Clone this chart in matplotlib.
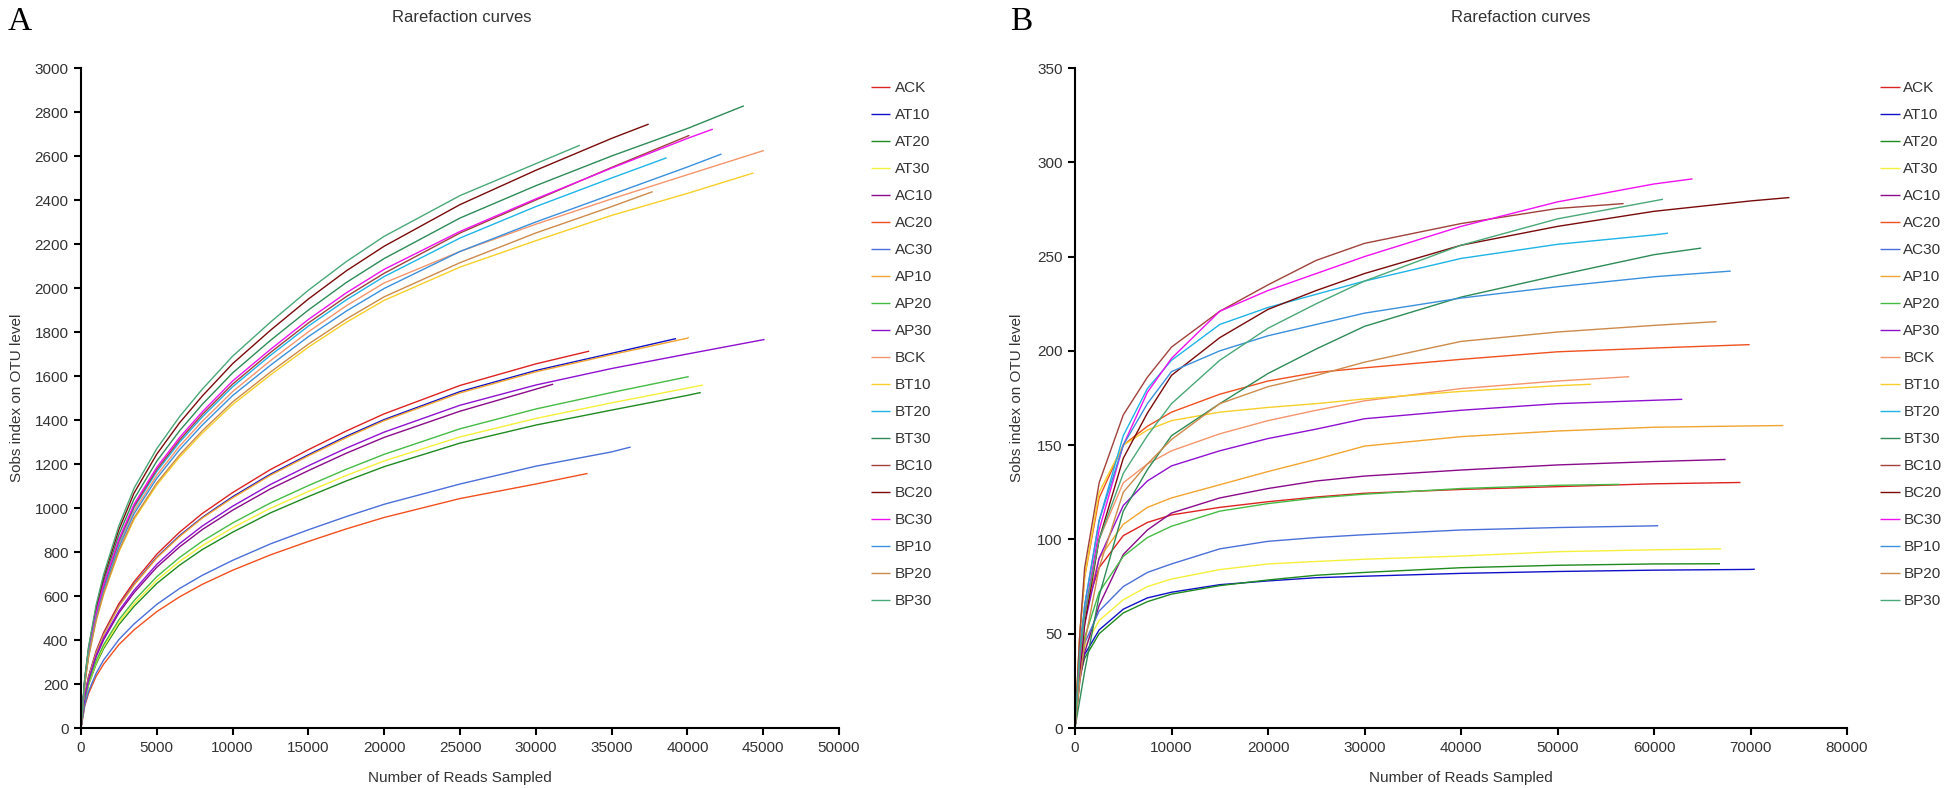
import matplotlib
matplotlib.use('Agg')
import matplotlib.pyplot as plt

plt.rcParams['font.family'] = ['Liberation Sans', 'DejaVu Sans']

# sample names and colours (same order in both panels)
names = ['ACK', 'AT10', 'AT20', 'AT30', 'AC10', 'AC20', 'AC30', 'AP10', 'AP20', 'AP30',
         'BCK', 'BT10', 'BT20', 'BT30', 'BC10', 'BC20', 'BC30', 'BP10', 'BP20', 'BP30']
colors = ['#dd2222', '#1010c8', '#1f8a1f', '#f5f03c', '#8a0a8a', '#f0501e', '#4a6fd8',
          '#f2a431', '#45bb45', '#9010d0', '#f4956c', '#f7cf2a', '#1eb4e6', '#2e8b57',
          '#a0413c', '#7a0a0a', '#f010f0', '#3a90dc', '#cd8a4a', '#4aa878']

# ---- panel A: reads sampled grid, per-sample values up to the sample end
a_grid = [0, 250, 500, 1000, 1500, 2500, 3500, 5000, 6500, 8000, 10000, 12500, 15000, 17500,
          20000, 25000, 30000, 35000, 40000, 45000]
a_sobs = [
    [0, 150, 235, 350, 435, 565, 665, 790, 890, 975, 1070, 1175, 1265, 1350, 1428, 1557, 1655],              # ACK
    [0, 147, 231, 344, 427, 555, 653, 776, 874, 957, 1051, 1154, 1242, 1326, 1402, 1529, 1625, 1703],        # AT10
    [0, 125, 196, 291, 362, 470, 553, 657, 740, 811, 890, 978, 1052, 1123, 1188, 1295, 1377, 1445, 1512],    # AT20
    [0, 128, 200, 298, 370, 480, 565, 672, 757, 829, 910, 999, 1075, 1148, 1214, 1323, 1407, 1478, 1545],    # AT30
    [0, 139, 217, 324, 402, 523, 615, 731, 823, 902, 990, 1087, 1170, 1249, 1321, 1440, 1540],               # AC10
    [0, 101, 157, 235, 291, 379, 446, 529, 596, 653, 717, 787, 848, 905, 957, 1043, 1109],                   # AC20
    [0, 107, 167, 249, 310, 402, 473, 562, 634, 694, 762, 837, 901, 961, 1017, 1109, 1190, 1255],            # AC30
    [0, 147, 230, 342, 425, 553, 650, 773, 870, 954, 1046, 1149, 1237, 1320, 1397, 1523, 1619, 1697, 1772],  # AP10
    [0, 131, 205, 305, 379, 492, 579, 688, 775, 849, 932, 1023, 1102, 1176, 1244, 1360, 1450, 1525, 1596],   # AP20
    [0, 141, 221, 330, 410, 532, 626, 744, 838, 918, 1008, 1107, 1192, 1272, 1345, 1467, 1559, 1634, 1700],  # AP30
    [0, 208, 335, 507, 634, 833, 986, 1149, 1281, 1394, 1529, 1670, 1801, 1919, 2023, 2166, 2290, 2405, 2515],  # BCK
    [0, 200, 322, 487, 609, 800, 948, 1105, 1231, 1340, 1470, 1605, 1731, 1844, 1944, 2095, 2215, 2330, 2430],  # BT10
    [0, 211, 340, 514, 643, 845, 1001, 1166, 1299, 1414, 1551, 1694, 1827, 1946, 2052, 2227, 2370, 2500],       # BT20
    [0, 220, 353, 535, 669, 879, 1041, 1213, 1351, 1471, 1614, 1762, 1900, 2025, 2134, 2318, 2465, 2600, 2725], # BT30
    [0, 213, 342, 518, 648, 851, 1008, 1175, 1309, 1425, 1563, 1707, 1841, 1961, 2067, 2250, 2400, 2548, 2690], # BC10
    [0, 225, 363, 549, 686, 902, 1068, 1245, 1387, 1509, 1656, 1808, 1950, 2078, 2190, 2379, 2535, 2680],       # BC20
    [0, 215, 345, 522, 653, 858, 1017, 1185, 1320, 1437, 1577, 1721, 1857, 1978, 2085, 2257, 2405, 2545, 2680], # BC30
    [0, 206, 331, 501, 626, 822, 974, 1135, 1265, 1377, 1511, 1649, 1779, 1895, 1998, 2166, 2300, 2425, 2550],  # BP10
    [0, 202, 324, 491, 614, 807, 956, 1114, 1241, 1351, 1482, 1618, 1745, 1859, 1960, 2115, 2250, 2370],        # BP20
    [0, 230, 370, 560, 700, 920, 1090, 1270, 1415, 1540, 1690, 1845, 1990, 2120, 2235, 2420, 2565],             # BP30
]
a_end_reads = [33524, 39251, 40881, 41035, 31145, 33414, 36256, 40088, 40088, 45088,
               45044, 44361, 38634, 43722, 40132, 37445, 41674, 42247, 37709, 32907]
a_end_sobs = [1713, 1770, 1525, 1559, 1563, 1157, 1277, 1776, 1598, 1766,
              2625, 2523, 2592, 2828, 2694, 2745, 2722, 2609, 2438, 2649]

# ---- panel B
b_grid = [0, 500, 1000, 2500, 5000, 7500, 10000, 15000, 20000, 25000, 30000, 40000, 50000, 60000, 70000]
b_sobs = [
    [0, 45, 62, 85, 102, 109, 113, 117, 120, 122.5, 124.5, 126.5, 128, 129.5],          # ACK
    [0, 28, 39, 52, 63, 69, 72, 76, 78, 79.7, 80.5, 82, 83, 83.7, 84.1],                # AT10
    [0, 27, 37, 50, 61, 67, 71, 75.5, 78.5, 81, 82.5, 85, 86.3, 87],                    # AT20
    [0, 30, 43, 57, 68, 75, 79, 84, 87, 88.3, 89.5, 91.2, 93.5, 94.5],                  # AT30
    [0, 25, 40, 65, 92, 105, 114, 122, 127, 131, 133.6, 136.8, 139.5, 141.3],           # AC10
    [0, 50, 80, 122, 150, 160, 167.5, 177, 184, 188.5, 191, 195.5, 199.5, 201.5],       # AC20
    [0, 30, 45, 62, 75, 82.5, 87, 95, 99, 101, 102.5, 105, 106.3, 107.2],               # AC30
    [0, 35, 60, 90, 108, 117, 122, 129, 136, 142.5, 149.5, 154.5, 157.5, 159.5, 160.2], # AP10
    [0, 30, 48, 72, 91, 101, 107, 115, 119, 122, 124, 127, 128.7],                      # AP20
    [0, 30, 55, 90, 118, 131, 139, 147, 153.5, 158.5, 164, 168.5, 172, 173.8],          # AP30
    [0, 35, 60, 100, 130, 140, 147, 156, 163, 168.5, 173.5, 180, 184],                  # BCK
    [0, 50, 80, 125, 150, 158, 163, 167.5, 170, 172, 174.5, 178.5, 181.5],              # BT10
    [0, 40, 65, 110, 155, 180, 195, 214, 223, 230, 237, 249, 256.5, 261.5],             # BT20
    [0, 15, 30, 70, 115, 137, 155, 172, 188, 201, 213, 228.5, 240, 251],                # BT30
    [0, 50, 85, 130, 166, 186, 202, 221, 235, 248, 257, 267.5, 275.5],                  # BC10
    [0, 30, 55, 100, 143, 167, 187, 207, 222, 232, 241, 256, 266, 274, 279.5],          # BC20
    [0, 35, 60, 105, 150, 178, 196, 221, 232, 241, 250, 266, 279, 288.5],               # BC30
    [0, 40, 65, 110, 150, 172, 189, 200, 208, 214, 220, 228, 234, 239.3],               # BP10
    [0, 25, 45, 85, 125, 140, 153, 172, 181, 187, 194, 205, 210, 213.5],                # BP20
    [0, 38, 60, 100, 135, 155, 172, 195, 212, 225, 237, 256, 270, 279.5],               # BP30
]
b_end_reads = [68960, 70440, 66840, 66950, 67420, 69910, 60440, 73400, 56420, 62930,
               57430, 53460, 61450, 64890, 56850, 74030, 63990, 67950, 66470, 60920]
b_end_sobs = [130.2, 84.2, 87.1, 95.0, 142.4, 203.3, 107.3, 160.4, 129.2, 174.3,
              186.3, 182.3, 262.4, 254.5, 278.1, 281.3, 291.2, 242.3, 215.5, 280.4]

W, H = 1952, 788
fig = plt.figure(figsize=(W / 100, H / 100), dpi=100)

TXT = '#333333'


def style_axes(ax, xmax, xstep, ymax, ystep):
    ax.set_xlim(0, xmax)
    ax.set_ylim(0, ymax)
    ax.set_xticks(range(0, xmax + 1, xstep))
    ax.set_yticks(range(0, ymax + 1, ystep))
    for s in ['top', 'right']:
        ax.spines[s].set_visible(False)
    for s in ['left', 'bottom']:
        ax.spines[s].set_linewidth(1.5)
        ax.spines[s].set_color('black')
    ax.tick_params(direction='out', length=5, width=1.5, labelsize=11, labelcolor=TXT, pad=4)
    ax.set_xlabel('Number of Reads Sampled', fontsize=11, color=TXT, labelpad=12)
    ax.set_ylabel('Sobs index on OTU level', fontsize=11, color=TXT)
    ax.patch.set_alpha(0)


def draw_panel(ax, grid, sobs, end_reads, end_sobs):
    handles = []
    for vals, ex, ey, c, n in zip(sobs, end_reads, end_sobs, colors, names):
        xs = grid[:len(vals)] + [ex]
        ys = vals + [ey]
        ln, = ax.plot(xs, ys, color=c, lw=1.0, label=n, solid_capstyle='butt',
                      solid_joinstyle='round')
        handles.append(ln)
    return handles


axA = fig.add_axes([81 / W, (H - 728) / H, (839 - 81) / W, 660 / H])
axB = fig.add_axes([1075 / W, (H - 728) / H, (1847 - 1075) / W, 660 / H])

hA = draw_panel(axA, a_grid, a_sobs, a_end_reads, a_end_sobs)
hB = draw_panel(axB, b_grid, b_sobs, b_end_reads, b_end_sobs)
style_axes(axA, 50000, 5000, 3000, 200)
style_axes(axB, 80000, 10000, 350, 50)
axA.yaxis.set_label_coords(-57 / 758, 0.5)
axB.yaxis.set_label_coords(-51 / 772, 0.5)

legA = axA.legend(handles=hA, loc='upper left', bbox_to_anchor=(871 / W, 1 - 81.5 / H),
                  bbox_transform=fig.transFigure, frameon=False, fontsize=11,
                  handlelength=1.25, handletextpad=0.33, labelspacing=0.85,
                  borderpad=0, borderaxespad=0)
legB = axB.legend(handles=hB, loc='upper left', bbox_to_anchor=(1880 / W, 1 - 81.5 / H),
                  bbox_transform=fig.transFigure, frameon=False, fontsize=11,
                  handlelength=1.31, handletextpad=0.22, labelspacing=0.85,
                  borderpad=0, borderaxespad=0)
for leg in (legA, legB):
    for t in leg.get_texts():
        t.set_color(TXT)

fig.text(462 / W, 1 - 18 / H, 'Rarefaction curves', ha='center', va='center', fontsize=12, color=TXT)
fig.text(1521 / W, 1 - 18 / H, 'Rarefaction curves', ha='center', va='center', fontsize=12, color=TXT)
fig.text(8 / W, 1 - 22 / H, 'A', ha='left', va='center', fontsize=24, family='Liberation Serif')
fig.text(1010 / W, 1 - 22 / H, 'B', ha='left', va='center', fontsize=24, family='Liberation Serif')

fig.savefig('out.png', dpi=100)
